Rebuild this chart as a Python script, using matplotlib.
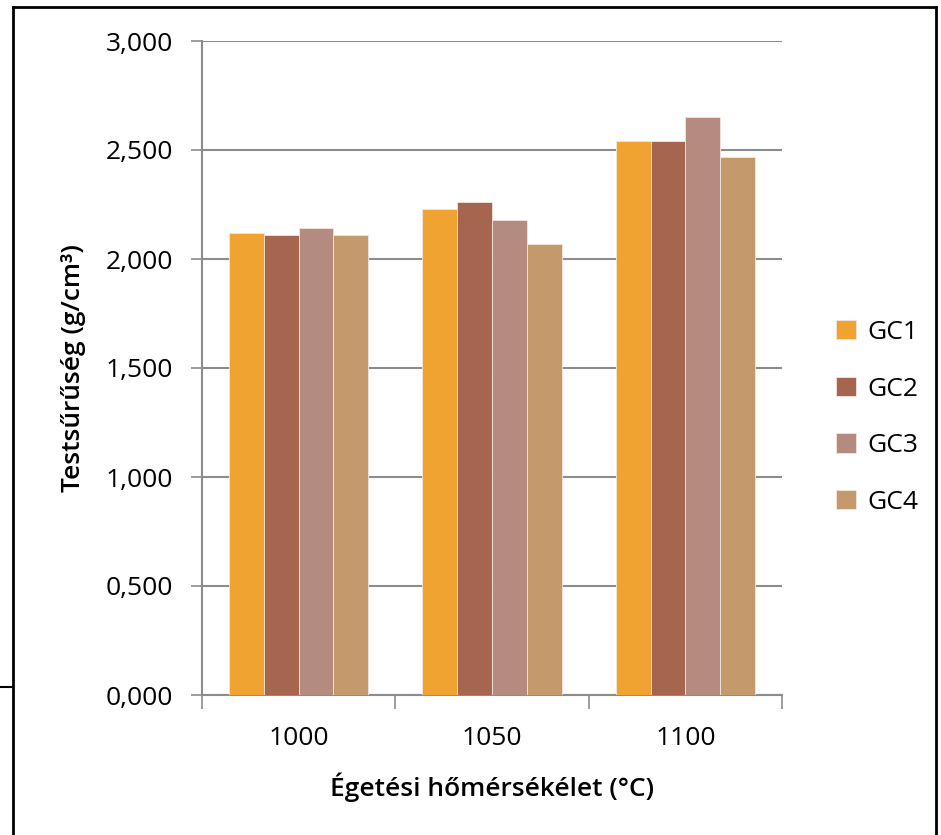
import numpy as np
import matplotlib
matplotlib.use("Agg")
import matplotlib.pyplot as plt
from matplotlib.ticker import FuncFormatter

plt.rcParams['font.family'] = ['Open Sans', 'DejaVu Sans']

temps = ["1000", "1050", "1100"]
series = ["GC1", "GC2", "GC3", "GC4"]
gc1 = [2.12, 2.23, 2.54]
gc2 = [2.11, 2.26, 2.54]
gc3 = [2.14, 2.18, 2.65]
gc4 = [2.11, 2.07, 2.47]
bar_colors = ["#F0A330", "#A5654E", "#B68B7F", "#C4996C"]


def comma_fmt(v, pos):
    # 2.5 -> "2,500"
    return f"{v:.3f}".replace(".", ",")


fig = plt.figure(figsize=(9.41, 8.35), dpi=100)
ax = fig.add_axes([202/941, 1 - 695/835, 580/941, 654/835])

x = np.arange(len(temps))
w = 0.18
for i, vals in enumerate([gc1, gc2, gc3, gc4]):
    ax.bar(x + (i - 1.5) * w, vals, w, color=bar_colors[i], label=series[i],
           edgecolor="#f3e6de", linewidth=0.6, zorder=3)

ax.set_xlim(-0.5, 2.5)
ax.set_ylim(0, 3.0)
ax.set_yticks(np.arange(0, 3.01, 0.5))
ax.yaxis.set_major_formatter(FuncFormatter(comma_fmt))
ax.grid(axis="y", color="#8c8c8c", linewidth=1.5, zorder=0)

ax.set_xticks(x)
ax.set_xticklabels(temps)
ax.set_xticks([-0.5, 0.5, 1.5, 2.5], minor=True)
ax.tick_params(axis="x", which="major", length=0, pad=22, labelsize=19)
ax.tick_params(axis="x", which="minor", length=10, width=1.2, color="#8c8c8c", direction="out")
ax.tick_params(axis="y", length=8, width=1.2, color="#8c8c8c", pad=13, labelsize=19)

for s in ["top", "right"]:
    ax.spines[s].set_visible(False)
for s in ["left", "bottom"]:
    ax.spines[s].set_color("#8c8c8c")
    ax.spines[s].set_linewidth(1.5)

ax.set_ylabel("Testsűrűség (g/cm³)", fontsize=19, fontweight="semibold", labelpad=14)
ax.set_xlabel("Égetési hőmérsékélet (°C)", fontsize=19, fontweight="semibold", labelpad=16)

ax.legend(loc="center left", bbox_to_anchor=(812/941, 0.5), bbox_transform=fig.transFigure,
          frameon=False, fontsize=19, handlelength=0.75, handleheight=0.75,
          labelspacing=1.2, handletextpad=0.45)

# outer frame pieces
fig.add_artist(plt.Line2D([13/941, 936/941], [1 - 7/835, 1 - 7/835], color="black", lw=2, transform=fig.transFigure))
fig.add_artist(plt.Line2D([13/941, 13/941], [0, 1 - 7/835], color="black", lw=2, transform=fig.transFigure))
fig.add_artist(plt.Line2D([936/941, 936/941], [0, 1 - 7/835], color="black", lw=2, transform=fig.transFigure))
fig.add_artist(plt.Line2D([0, 13/941], [1 - 687/835, 1 - 687/835], color="black", lw=1.5, transform=fig.transFigure))

fig.savefig("out.png", dpi=100)
